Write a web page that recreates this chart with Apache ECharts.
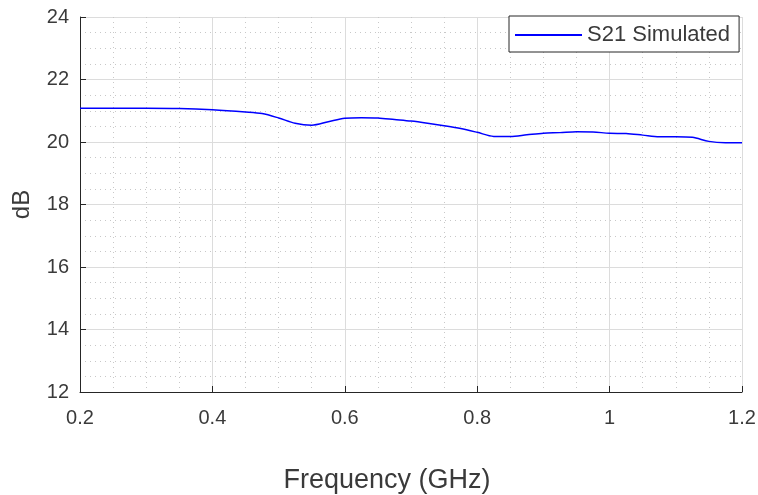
<!DOCTYPE html>
<html>
<head>
<meta charset="utf-8">
<script src="https://cdn.jsdelivr.net/npm/echarts@6/dist/echarts.min.js"></script>
<style>
  html, body { margin: 0; padding: 0; background: #fff; }
  #chart { width: 758px; height: 495px; }
</style>
</head>
<body>
<div id="chart"></div>
<script>
// S21 simulated gain vs frequency
var freqGHz = [0.2, 0.25, 0.3, 0.35, 0.4, 0.45, 0.475, 0.5, 0.525, 0.55, 0.575, 0.6, 0.625, 0.65,
  0.675, 0.7, 0.725, 0.75, 0.775, 0.8, 0.825, 0.85, 0.875, 0.9, 0.925, 0.95, 0.975, 1.0,
  1.025, 1.05, 1.075, 1.1, 1.125, 1.15, 1.175, 1.2];
var s21dB = [21.08, 21.08, 21.08, 21.07, 21.03, 20.96, 20.91, 20.77, 20.6, 20.54, 20.65, 20.76, 20.78, 20.77,
  20.72, 20.67, 20.6, 20.52, 20.43, 20.31, 20.18, 20.18, 20.23, 20.28, 20.3, 20.33, 20.32, 20.28,
  20.27, 20.22, 20.17, 20.17, 20.15, 20.02, 19.98, 19.98];
var seriesName = 'S21 Simulated';

var pts = freqGHz.map(function (f, i) { return [f, s21dB[i]]; });

var axisCol = '#262626';
var labelCol = '#3a3a3a';
var font = 'Liberation Sans, Arial, sans-serif';

var myChart = echarts.init(document.getElementById('chart'));
var option = {
  animation: false,
  backgroundColor: '#fff',
  grid: { left: 80, right: 16, top: 17, bottom: 103, containLabel: false, outerBoundsMode: 'none' },
  legend: {
    data: [seriesName],
    left: 509, top: 16,
    padding: [8, 9, 6, 6],
    icon: 'rect',
    itemWidth: 67, itemHeight: 2,
    backgroundColor: '#fff',
    borderColor: axisCol, borderWidth: 1, borderRadius: 0,
    textStyle: { fontFamily: font, fontSize: 22, color: labelCol }
  },
  xAxis: {
    type: 'value', min: 0.2, max: 1.2, interval: 0.2,
    name: 'Frequency (GHz)', nameLocation: 'middle', nameGap: 75,
    nameTextStyle: { fontFamily: font, fontSize: 27, color: labelCol, padding: [0, 48, 0, 0] },
    axisLine: { show: true, onZero: false, lineStyle: { color: axisCol, width: 1 } },
    axisTick: { show: true, inside: true, length: 6, lineStyle: { color: axisCol } },
    axisLabel: { fontFamily: font, fontSize: 20, color: labelCol, margin: 16,
      formatter: function (v) { return String(Math.round(v * 10) / 10); } },
    splitLine: { show: true, lineStyle: { color: '#dcdcdc', width: 1 } },
    minorTick: { show: true, splitNumber: 4, length: 0 },
    minorSplitLine: { show: true, lineStyle: { color: '#c8c8c8', width: 1, type: [1, 4] } }
  },
  yAxis: {
    type: 'value', min: 12, max: 24, interval: 2,
    name: 'dB', nameLocation: 'middle', nameGap: 46,
    nameTextStyle: { fontFamily: font, fontSize: 24, color: labelCol },
    axisLine: { show: true, onZero: false, lineStyle: { color: axisCol, width: 1 } },
    axisTick: { show: true, inside: true, length: 6, lineStyle: { color: axisCol } },
    axisLabel: { fontFamily: font, fontSize: 20, color: labelCol, margin: 11 },
    splitLine: { show: true, lineStyle: { color: '#dcdcdc', width: 1 } },
    minorTick: { show: true, splitNumber: 4, length: 0 },
    minorSplitLine: { show: true, lineStyle: { color: '#c8c8c8', width: 1, type: [1, 4] } }
  },
  series: [{
    name: seriesName,
    type: 'line',
    data: pts,
    symbol: 'none',
    smooth: 0.3,
    lineStyle: { color: '#0000ff', width: 1.5 },
    itemStyle: { color: '#0000ff' }
  }]
};
myChart.setOption(option);
window.onresize = myChart.resize;
</script>
</body>
</html>
